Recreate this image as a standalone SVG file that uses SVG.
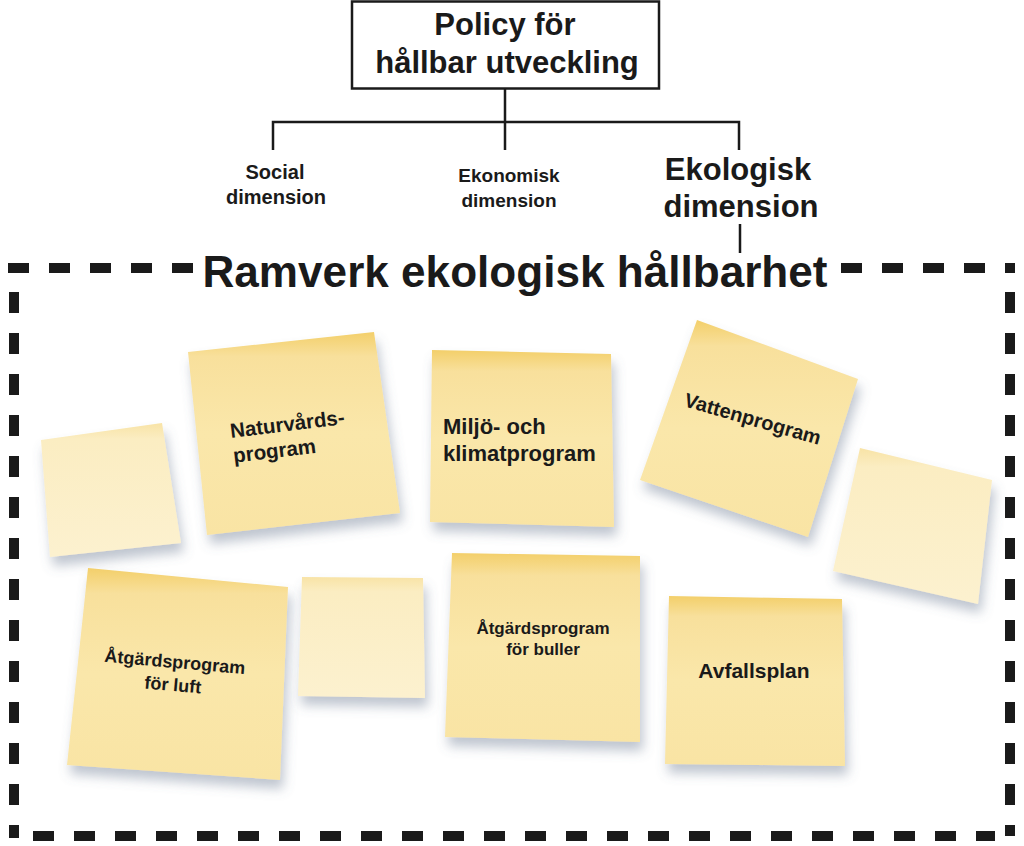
<svg xmlns="http://www.w3.org/2000/svg" width="1024" height="846" viewBox="0 0 1024 846">
<style>
text{font-family:"Liberation Sans",Arial,sans-serif;font-weight:bold;fill:#1a1a1a}
.line{stroke:#1a1a1a;stroke-width:2.5;fill:none}
.dash{stroke:#1a1a1a;stroke-width:10;fill:none;stroke-dasharray:21 20}
.note{fill:url(#ng);filter:url(#sh)}
.light{fill:url(#lg);filter:url(#sh)}
</style>
<defs>
<linearGradient id="ng" x1="0" y1="0" x2="0" y2="1">
<stop offset="0" stop-color="#f3cf6a"/>
<stop offset="0.12" stop-color="#f8e09c"/>
<stop offset="0.5" stop-color="#fae7aa"/>
<stop offset="1" stop-color="#f9e4a4"/>
</linearGradient>
<linearGradient id="lg" x1="0" y1="0" x2="0" y2="1">
<stop offset="0" stop-color="#f8e3a6"/>
<stop offset="0.12" stop-color="#fbedc2"/>
<stop offset="1" stop-color="#fcf1cf"/>
</linearGradient>
<filter id="sh" x="-20%" y="-20%" width="140%" height="150%">
<feOffset in="SourceAlpha" dx="3" dy="9" result="o"/>
<feGaussianBlur in="o" stdDeviation="6" result="b"/>
<feFlood flood-color="#5f6f88" flood-opacity="0.4"/>
<feComposite in2="b" operator="in" result="s"/>
<feMerge><feMergeNode in="s"/><feMergeNode in="SourceGraphic"/></feMerge>
</filter>
</defs>
<rect width="1024" height="846" fill="#ffffff"/>

<g id="connectors">
<path class="line" d="M505,89 V122 M273,150 V122 H739 V150 M505,122 V150 M740,224 V253"/>
</g>

<g id="policy">
<rect x="352" y="1.5" width="307" height="87" fill="#ffffff" stroke="#1a1a1a" stroke-width="2.5"/>
<text x="505" y="35" font-size="31" text-anchor="middle">Policy för</text>
<text x="507" y="73" font-size="31" text-anchor="middle">hållbar utveckling</text>
</g>

<g id="social">
<text x="275" y="179" font-size="20" text-anchor="middle">Social</text>
<text x="276" y="204" font-size="20" text-anchor="middle">dimension</text>
</g>
<g id="ekonomisk">
<text x="509" y="182" font-size="19" text-anchor="middle">Ekonomisk</text>
<text x="509" y="207" font-size="19" text-anchor="middle">dimension</text>
</g>
<g id="ekologisk">
<text x="738" y="180" font-size="31" text-anchor="middle">Ekologisk</text>
<text x="741" y="217" font-size="31" text-anchor="middle">dimension</text>
</g>

<g id="ramverk">
<path class="dash" d="M8,268 H193 M841,268 H1015"/>
<path class="dash" d="M14,292 V838"/>
<path class="dash" d="M1010,292 V836"/>
<path class="dash" d="M33,836 H995"/>
<text x="515" y="287" font-size="44" text-anchor="middle" textLength="625" lengthAdjust="spacingAndGlyphs">Ramverk ekologisk hållbarhet</text>
</g>

<g id="blank1"><polygon class="light" points="41,440 162,423 181,543 50,557"/></g>

<g id="naturvard">
<polygon class="note" points="188,352 374,332 400,513 207,535"/>
<g transform="rotate(-7 231 438)">
<text x="231" y="438" font-size="20.5">Naturvårds-</text>
<text x="231" y="463" font-size="20.5">program</text>
</g>
</g>

<g id="miljo">
<polygon class="note" points="432,350 611,354 614,527 430,522"/>
<text x="443" y="434" font-size="22">Miljö- och</text>
<text x="443" y="461" font-size="22">klimatprogram</text>
</g>

<g id="vatten">
<polygon class="note" points="697,320 858,379 808,537 640,480"/>
<text x="683" y="406" font-size="20" transform="rotate(16 683 406)">Vattenprogram</text>
</g>

<g id="blank2"><polygon class="light" points="860,448 992,480 978,604 833,571"/></g>

<g id="luft">
<polygon class="note" points="88,568 288,587 280,780 67,765"/>
<g transform="rotate(5 174 672)">
<text x="174" y="668" font-size="18" text-anchor="middle">Åtgärdsprogram</text>
<text x="174" y="691" font-size="18" text-anchor="middle">för luft</text>
</g>
</g>

<g id="blank3"><polygon class="light" points="302,577 423,578 425,698 298,696"/></g>

<g id="buller">
<polygon class="note" points="452,553 640,556 640,742 445,737"/>
<text x="543" y="634" font-size="17" text-anchor="middle">Åtgärdsprogram</text>
<text x="543" y="655" font-size="17" text-anchor="middle">för buller</text>
</g>

<g id="avfall">
<polygon class="note" points="669,596 842,599 845,766 665,764"/>
<text x="754" y="678" font-size="21" text-anchor="middle">Avfallsplan</text>
</g>
</svg>
